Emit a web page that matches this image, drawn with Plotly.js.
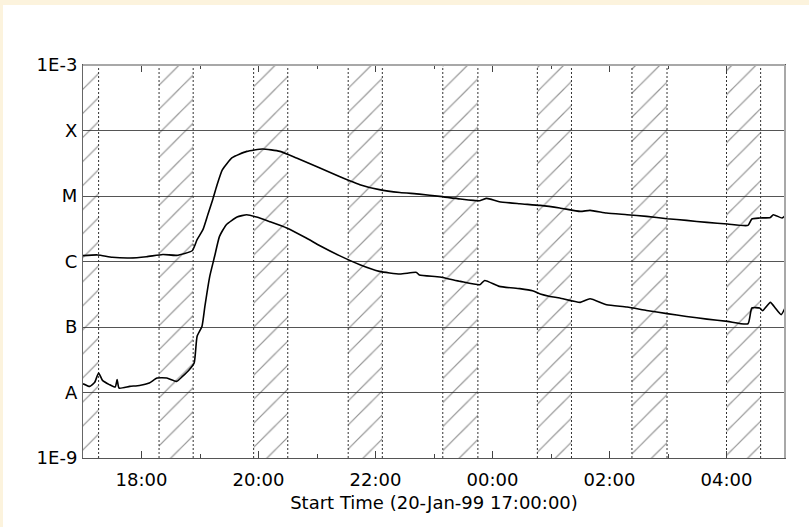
<!DOCTYPE html>
<html>
<head>
<meta charset="utf-8">
<script src="https://cdn.plot.ly/plotly-3.0.1.min.js"></script>
<style>
  html, body { margin: 0; padding: 0; background: #fcf3dd; width: 809px; height: 527px; overflow: hidden; }
  #chart { position: absolute; left: 3px; top: 5px; width: 806px; height: 522px; background: #ffffff; }
</style>
</head>
<body>
<div id="chart"></div>
<script>
// Long channel (1-8 A) flux
const longTimes = [
  '1999-01-20 17:00','1999-01-20 17:15','1999-01-20 17:30','1999-01-20 17:48','1999-01-20 18:05',
  '1999-01-20 18:22','1999-01-20 18:36','1999-01-20 18:52','1999-01-20 18:57','1999-01-20 19:03',
  '1999-01-20 19:08','1999-01-20 19:13','1999-01-20 19:17','1999-01-20 19:23','1999-01-20 19:33',
  '1999-01-20 19:48','1999-01-20 20:04','1999-01-20 20:22','1999-01-20 20:39','1999-01-20 21:03',
  '1999-01-20 21:23','1999-01-20 21:44','1999-01-20 22:04','1999-01-20 22:25','1999-01-20 22:45',
  '1999-01-20 23:06','1999-01-20 23:27','1999-01-20 23:47','1999-01-20 23:54','1999-01-21 00:07',
  '1999-01-21 00:28','1999-01-21 00:49','1999-01-21 01:09','1999-01-21 01:30','1999-01-21 01:40',
  '1999-01-21 01:57','1999-01-21 02:18','1999-01-21 02:38','1999-01-21 02:59','1999-01-21 03:19',
  '1999-01-21 03:40','1999-01-21 04:01','1999-01-21 04:22','1999-01-21 04:26','1999-01-21 04:34',
  '1999-01-21 04:45','1999-01-21 04:48','1999-01-21 04:57','1999-01-21 05:00'
];
const longFlux = [
  1.23e-6, 1.26e-6, 1.16e-6, 1.13e-6, 1.18e-6,
  1.28e-6, 1.24e-6, 1.46e-6, 2.15e-6, 3.06e-6,
  5.18e-6, 8.78e-6, 1.40e-5, 2.52e-5, 3.85e-5,
  4.80e-5, 5.22e-5, 4.80e-5, 3.80e-5, 2.67e-5,
  1.99e-5, 1.49e-5, 1.25e-5, 1.13e-5, 1.07e-5,
  9.87e-6, 9.00e-6, 8.48e-6, 9.20e-6, 8.18e-6,
  7.62e-6, 7.18e-6, 6.56e-6, 5.82e-6, 6.03e-6,
  5.50e-6, 5.18e-6, 4.88e-6, 4.50e-6, 4.24e-6,
  3.95e-6, 3.74e-6, 3.56e-6, 4.46e-6, 4.61e-6,
  4.71e-6, 5.18e-6, 4.61e-6, 5.00e-6
];

// Short channel (0.5-4 A) flux
const shortTimes = [
  '1999-01-20 17:00','1999-01-20 17:07','1999-01-20 17:12','1999-01-20 17:16','1999-01-20 17:20',
  '1999-01-20 17:27','1999-01-20 17:33','1999-01-20 17:35','1999-01-20 17:37','1999-01-20 17:48',
  '1999-01-20 17:58','1999-01-20 18:08','1999-01-20 18:16','1999-01-20 18:26','1999-01-20 18:36',
  '1999-01-20 18:42','1999-01-20 18:49','1999-01-20 18:54','1999-01-20 18:57','1999-01-20 19:02',
  '1999-01-20 19:05','1999-01-20 19:10','1999-01-20 19:15','1999-01-20 19:20','1999-01-20 19:27',
  '1999-01-20 19:38','1999-01-20 19:48','1999-01-20 19:58','1999-01-20 20:11','1999-01-20 20:29',
  '1999-01-20 20:49','1999-01-20 21:03','1999-01-20 21:23','1999-01-20 21:44','1999-01-20 22:04',
  '1999-01-20 22:25','1999-01-20 22:42','1999-01-20 22:45','1999-01-20 23:06','1999-01-20 23:27',
  '1999-01-20 23:47','1999-01-20 23:52','1999-01-21 00:07','1999-01-21 00:28','1999-01-21 00:41',
  '1999-01-21 00:49','1999-01-21 00:59','1999-01-21 01:09','1999-01-21 01:30','1999-01-21 01:40',
  '1999-01-21 01:57','1999-01-21 02:18','1999-01-21 02:38','1999-01-21 02:59','1999-01-21 03:19',
  '1999-01-21 03:40','1999-01-21 04:01','1999-01-21 04:22','1999-01-21 04:26','1999-01-21 04:34',
  '1999-01-21 04:37','1999-01-21 04:45','1999-01-21 04:50','1999-01-21 04:56','1999-01-21 05:00'
];
const shortFlux = [
  1.36e-8, 1.24e-8, 1.43e-8, 1.99e-8, 1.53e-8,
  1.32e-8, 1.21e-8, 1.57e-8, 1.17e-8, 1.24e-8,
  1.28e-8, 1.40e-8, 1.66e-8, 1.66e-8, 1.48e-8,
  1.76e-8, 2.23e-8, 2.82e-8, 7.18e-8, 1.02e-7,
  2.06e-7, 5.93e-7, 1.20e-6, 2.42e-6, 3.65e-6,
  4.77e-6, 5.18e-6, 4.77e-6, 4.09e-6, 3.25e-6,
  2.28e-6, 1.74e-6, 1.23e-6, 8.94e-7, 7.06e-7,
  6.44e-7, 6.82e-7, 6.22e-7, 5.80e-7, 4.97e-7,
  4.42e-7, 5.14e-7, 4.17e-7, 3.85e-7, 3.58e-7,
  3.19e-7, 2.93e-7, 2.77e-7, 2.38e-7, 2.70e-7,
  2.19e-7, 2.02e-7, 1.79e-7, 1.60e-7, 1.45e-7,
  1.32e-7, 1.22e-7, 1.12e-7, 1.95e-7, 1.95e-7,
  1.77e-7, 2.38e-7, 1.95e-7, 1.54e-7, 1.95e-7
];

// Hatched (night) intervals
const nightStart = ['1999-01-20 16:41','1999-01-20 18:18','1999-01-20 19:55','1999-01-20 21:32',
                    '1999-01-20 23:09','1999-01-21 00:46','1999-01-21 02:23','1999-01-21 04:00'];
const nightEnd   = ['1999-01-20 17:16','1999-01-20 18:53','1999-01-20 20:30','1999-01-20 22:07',
                    '1999-01-20 23:45','1999-01-21 01:21','1999-01-21 02:59','1999-01-21 04:35'];

// Y-axis decade labels
const yTickVals = [1e-9, 1e-8, 1e-7, 1e-6, 1e-5, 1e-4, 1e-3];
const yTickText = ['1E-9', 'A', 'B', 'C', 'M', 'X', '1E-3'];

const yMin = 1e-9, yMax = 1e-3;
const hx = [], hy = [];
for (let i = 0; i < nightStart.length; i++) {
  hx.push(nightStart[i], nightStart[i], nightEnd[i], nightEnd[i], nightStart[i], null);
  hy.push(yMin, yMax, yMax, yMin, yMin, null);
}
const edgeX = [], edgeY = [];
for (let i = 0; i < nightStart.length; i++) {
  edgeX.push(nightStart[i], nightStart[i], null, nightEnd[i], nightEnd[i], null);
  edgeY.push(yMin, yMax, null, yMin, yMax, null);
}

const traces = [
  {
    x: hx, y: hy, type: 'scatter', mode: 'lines', fill: 'toself',
    fillcolor: 'rgba(255,255,255,0)',
    fillpattern: { shape: '/', size: 17, solidity: 0.07, fgcolor: '#2a2a2a', bgcolor: 'rgba(255,255,255,0)', fillmode: 'overlay' },
    line: { width: 0, color: 'rgba(0,0,0,0)' },
    hoverinfo: 'skip', showlegend: false
  },
  {
    x: edgeX, y: edgeY, type: 'scatter', mode: 'lines',
    line: { color: '#333', width: 1, dash: '2px,2px' },
    hoverinfo: 'skip', showlegend: false
  },
  {
    x: longTimes, y: longFlux, type: 'scatter', mode: 'lines',
    line: { color: '#000', width: 1.6, shape: 'spline', smoothing: 0.5 }, showlegend: false
  },
  {
    x: shortTimes, y: shortFlux, type: 'scatter', mode: 'lines',
    line: { color: '#000', width: 1.6, shape: 'spline', smoothing: 0.5 }, showlegend: false
  }
];

const layout = {
  width: 806, height: 522,
  margin: { l: 80, r: 24, t: 60, b: 69 },
  paper_bgcolor: '#ffffff', plot_bgcolor: '#ffffff',
  font: { family: 'DejaVu Sans', size: 18, color: '#000' },
  showlegend: false,
  xaxis: {
    type: 'date',
    range: ['1999-01-20 17:00', '1999-01-21 05:00'],
    tick0: '1999-01-20 18:00', dtick: 7200000, tickformat: '%H:%M',
    ticks: 'inside', ticklen: 7, tickcolor: '#444', tickwidth: 1,
    minor: { tick0: '1999-01-20 17:00', dtick: 3600000, ticks: 'inside', ticklen: 4, tickcolor: '#444', showgrid: false },
    showline: true, linecolor: '#555', linewidth: 1, mirror: 'ticks',
    showgrid: false, zeroline: false,
    ticklabelstandoff: 5,
    title: { text: 'Start Time (20-Jan-99 17:00:00)', font: { size: 18 }, standoff: 7 },
    tickfont: { size: 18 }
  },
  yaxis: {
    type: 'log', range: [-9, -3],
    tickmode: 'array', tickvals: yTickVals, ticktext: yTickText,
    ticks: '', showgrid: true, gridcolor: '#555', gridwidth: 1,
    showline: true, linecolor: '#666', linewidth: 1, mirror: true,
    zeroline: false, tickfont: { size: 18 }, ticklabelstandoff: 1
  },
  shapes: [
    { type: 'line', xref: 'paper', yref: 'paper', x0: 0, x1: 1, y0: 1, y1: 1, line: { color: '#a8a8a8', width: 2 } },
    { type: 'line', xref: 'paper', yref: 'paper', x0: 1, x1: 1, y0: 0, y1: 1, line: { color: '#a8a8a8', width: 2 } }
  ]
};

Plotly.newPlot('chart', traces, layout, { staticPlot: true, displayModeBar: false });
</script>
</body>
</html>
